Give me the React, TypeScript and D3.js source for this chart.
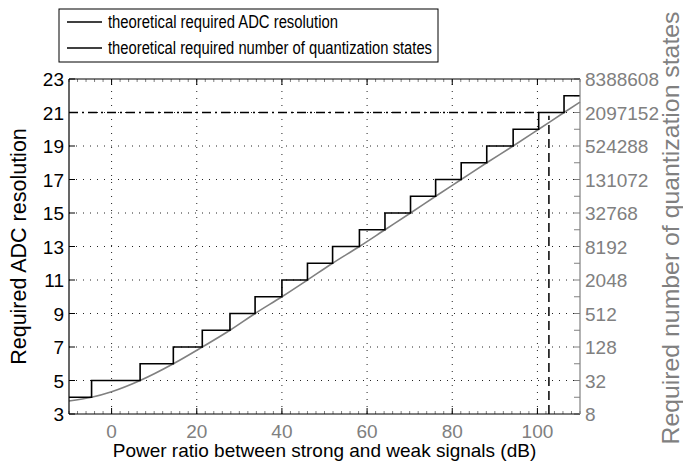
import React from 'react';
import * as d3 from 'd3';

const xTicks = [0, 20, 40, 60, 80, 100];
const yTicks = [3, 5, 7, 9, 11, 13, 15, 17, 19, 21, 23];
const rightExps = [3, 4, 5, 6, 7, 8, 9, 10, 11, 12, 13, 14, 15, 16, 17, 18, 19, 20, 21, 22, 23];
const rightLabelExps = [3, 5, 7, 9, 11, 13, 15, 17, 19, 21, 23];

// step function: required ADC resolution (bits) between edges (dB)
const stepEdges = [-10, -4.7, 6.7, 14.5, 21.3, 27.8, 33.7, 40, 46, 51.9, 58.2, 64.2, 70.2, 76.1, 82.1, 88.1, 94.3, 100.3, 106.25, 110];
const stepBits = [4, 5, 6, 7, 8, 9, 10, 11, 12, 13, 14, 15, 16, 17, 18, 19, 20, 21, 22];

// theoretical (continuous) curve
const curveDb = [-10, -4.7, 0, 6.7, 14.5, 21.3, 27.8, 33.7, 40, 46, 51.9, 58.2, 64.2, 70.2, 76.1, 82.1, 88.1, 94.3, 100.3, 106.25, 110];
const curveBits = [3.78, 4, 4.33, 5, 6, 7, 8, 9, 10, 11, 12, 13, 14, 15, 16, 17, 18, 19, 20, 21, 21.62];

const markerDb = 102.7;
const markerBits = 21;
const markerHEnd = 100.3;

const legendLabels = ['theoretical required ADC resolution', 'theoretical required number of quantization states'];
const xTitle = 'Power ratio between strong and weak signals (dB)';
const yTitle = 'Required ADC resolution';
const y2Title = 'Required number of quantization states';

const FONT = '"Liberation Sans", Arial, Helvetica, sans-serif';
const GRAY = '#808080';

export default function App() {
  const W = 683, H = 464;
  const L = 69, R = 580, T = 79, B = 414;
  const x = d3.scaleLinear().domain([-10, 110]).range([L, R]);
  const y = d3.scaleLinear().domain([3, 23]).range([B, T]);
  const yR = d3.scaleLog().base(2).domain([8, 8388608]).range([B, T]);

  const stepPts: [number, number][] = stepEdges.map((e, i) => [e, stepBits[Math.min(i, stepBits.length - 1)]]);
  const stepLine = d3.line<[number, number]>().x(d => x(d[0])).y(d => y(d[1])).curve(d3.curveStepAfter);
  const curvePts: [number, number][] = curveDb.map((d, i) => [d, curveBits[i]]);
  const smooth = d3.line<[number, number]>().x(d => x(d[0])).y(d => y(d[1])).curve(d3.curveMonotoneX);

  const minorX = d3.range(-10, 110.01, 2);
  const legendWidths = [230, 324];

  return (
    <svg width={W} height={H} style={{ position: 'absolute', left: 0, top: 0, background: '#fff' }} fontFamily={FONT}>
      <rect x={0} y={0} width={W} height={H} fill="#fff" />
      {/* grid */}
      {xTicks.map(t => (
        <line key={'gx' + t} x1={x(t)} x2={x(t)} y1={B} y2={T} stroke="#222" strokeWidth={1} strokeDasharray="1,6" />
      ))}
      {yTicks.slice(1, -1).map(t => (
        <line key={'gy' + t} x1={L} x2={R} y1={y(t)} y2={y(t)} stroke="#222" strokeWidth={1} strokeDasharray="1,6" />
      ))}
      {/* minor gray ticks top/bottom */}
      {minorX.map(t => (
        <g key={'mx' + t}>
          <line x1={x(t)} x2={x(t)} y1={B} y2={B - 3} stroke={GRAY} strokeWidth={1} />
          <line x1={x(t)} x2={x(t)} y1={T} y2={T + 3} stroke={GRAY} strokeWidth={1} />
        </g>
      ))}
      {/* major x ticks */}
      {xTicks.map(t => (
        <g key={'tx' + t}>
          <line x1={x(t)} x2={x(t)} y1={B} y2={B - 6} stroke="#000" strokeWidth={1} />
          <line x1={x(t)} x2={x(t)} y1={T} y2={T + 6} stroke="#000" strokeWidth={1} />
          <text x={x(t)} y={438} textAnchor="middle" fontSize={19} fill={GRAY}>{t}</text>
        </g>
      ))}
      {/* left y ticks */}
      {yTicks.map(t => (
        <g key={'ty' + t}>
          <line x1={L} x2={L + 6} y1={y(t)} y2={y(t)} stroke="#000" strokeWidth={1} />
          <text x={64} y={y(t) + 7} textAnchor="end" fontSize={19} fill="#000">{t}</text>
        </g>
      ))}
      {/* right y ticks */}
      {rightExps.map(k => (
        <line key={'tr' + k} x1={R} x2={R - 6} y1={yR(Math.pow(2, k))} y2={yR(Math.pow(2, k))} stroke={GRAY} strokeWidth={1} />
      ))}
      {rightLabelExps.map(k => (
        <text key={'lr' + k} x={585} y={yR(Math.pow(2, k)) + 7} fontSize={19} fill={GRAY}>{Math.pow(2, k)}</text>
      ))}
      {/* marker lines */}
      <line x1={x(-10)} x2={x(markerHEnd)} y1={y(markerBits)} y2={y(markerBits)} stroke="#000" strokeWidth={1.5} strokeDasharray="9,4,2,4" />
      <line x1={x(markerDb)} x2={x(markerDb)} y1={y(3)} y2={y(markerBits - 0.2)} stroke="#000" strokeWidth={1.5} strokeDasharray="9,5" />
      {/* data */}
      <path d={smooth(curvePts) || ''} fill="none" stroke={GRAY} strokeWidth={1.6} />
      <path d={stepLine(stepPts) || ''} fill="none" stroke="#000" strokeWidth={1.6} />
      {/* frame */}
      <line x1={L} x2={L} y1={T} y2={B} stroke="#000" strokeWidth={1.2} />
      <line x1={L} x2={R} y1={T} y2={T} stroke="#000" strokeWidth={1.2} />
      <line x1={L} x2={R} y1={B} y2={B} stroke="#000" strokeWidth={1.2} />
      <line x1={R} x2={R} y1={T} y2={B} stroke={GRAY} strokeWidth={1.2} />
      {/* titles */}
      <text x={(L + R) / 2} y={457} textAnchor="middle" fontSize={19} fill="#000">{xTitle}</text>
      <text transform={`translate(26,${(T + B) / 2}) rotate(-90)`} textAnchor="middle" fontSize={21.5} fill="#000">{yTitle}</text>
      <text transform={`translate(679,228) rotate(-90)`} textAnchor="middle" fontSize={24} fill={GRAY} textLength={433} lengthAdjust="spacingAndGlyphs">{y2Title}</text>
      {/* legend */}
      <rect x={59} y={9} width={379} height={53} fill="#fff" stroke="#000" strokeWidth={1} />
      {legendLabels.map((lab, i) => (
        <g key={'lg' + i}>
          <line x1={67} x2={102} y1={22 + i * 26} y2={22 + i * 26} stroke="#000" strokeWidth={1.4} />
          <text x={108} y={28 + i * 26} fontSize={17.5} fill="#000" textLength={legendWidths[i]} lengthAdjust="spacingAndGlyphs">{lab}</text>
        </g>
      ))}
    </svg>
  );
}
